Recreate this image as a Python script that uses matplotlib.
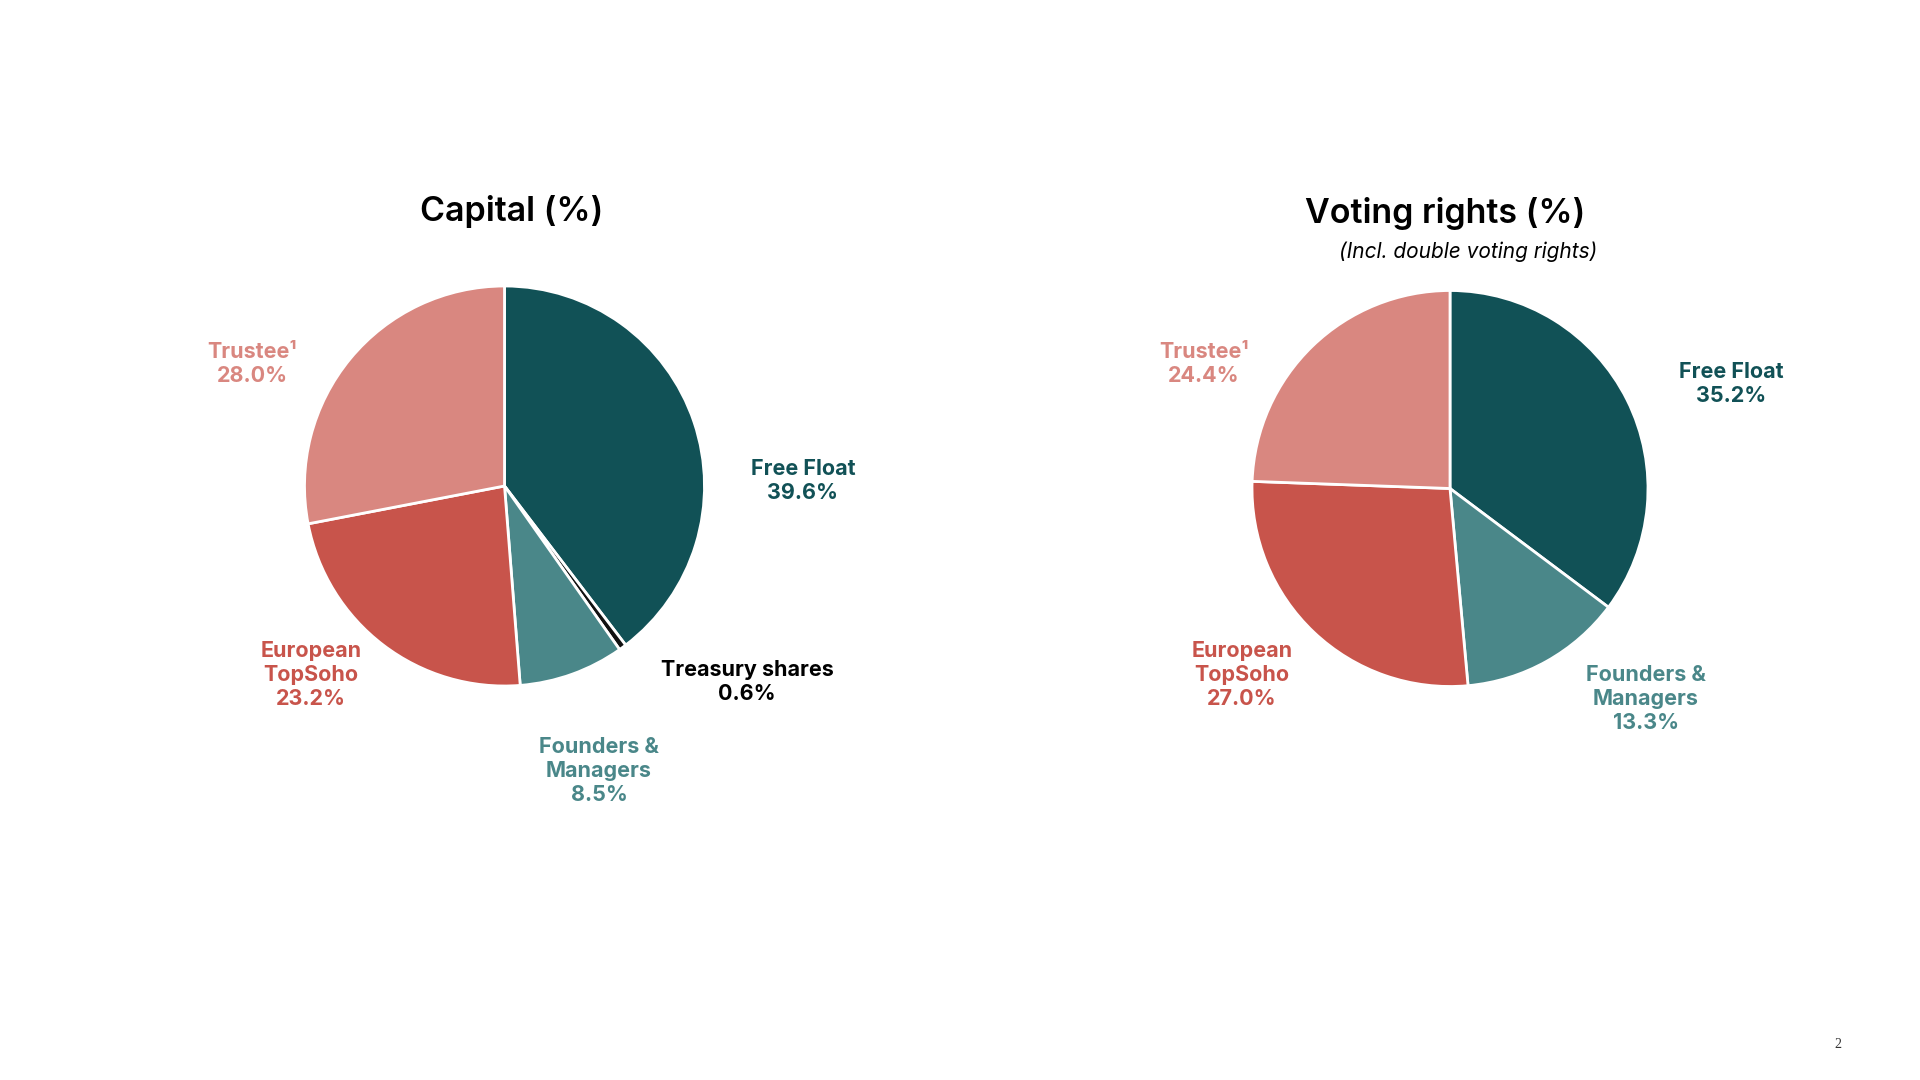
import matplotlib
matplotlib.use("Agg")
import matplotlib.pyplot as plt

plt.rcParams['font.family'] = ['Inter', 'DejaVu Sans']

# data
cap_labels = ["Free Float", "Treasury shares", "Founders &\nManagers", "European\nTopSoho", "Trustee\u00b9"]
cap_values = [39.6, 0.6, 8.5, 23.2, 28.0]
cap_colors = ["#115156", "#111111", "#4a8789", "#c8544b", "#d98780"]
cap_text_colors = ["#115156", "#000000", "#4a8789", "#c8544b", "#d98780"]

vote_labels = ["Free Float", "Founders &\nManagers", "European\nTopSoho", "Trustee\u00b9"]
vote_values = [35.2, 13.3, 27.0, 24.4]
vote_colors = ["#115156", "#4a8789", "#c8544b", "#d98780"]

# label positions in figure pixels (x from left, y from top)
cap_label_pos = [(803, 481), (747, 682), (599, 771), (311, 675), (252, 364)]
vote_label_pos = [(1731, 384), (1646, 699), (1242, 675), (1204, 364)]

W, H = 1920, 1080
fig = plt.figure(figsize=(19.2, 10.8), dpi=100)
ax = fig.add_axes([0, 0, 1, 1])


def draw_pie(values, colors, center, radius):
    ax.pie(values, colors=colors, startangle=90, counterclock=False,
           center=(center[0], H - center[1]), radius=radius,
           wedgeprops=dict(edgecolor='white', linewidth=2), frame=True)


draw_pie(cap_values, cap_colors, (504.5, 486), 200)
draw_pie(vote_values, vote_colors, (1450, 488.5), 198)
ax.set_xlim(0, W)
ax.set_ylim(0, H)
ax.set_aspect('equal')
ax.axis('off')

for lab, v, c, (x, y) in zip(cap_labels, cap_values, cap_text_colors, cap_label_pos):
    ax.text(x, H - y, f"{lab}\n{v:.1f}%", color=c, ha='center', va='center',
            fontsize=15.5, fontweight='bold', linespacing=1.22)

for lab, v, c, (x, y) in zip(vote_labels, vote_values, vote_colors, vote_label_pos):
    ax.text(x, H - y, f"{lab}\n{v:.1f}%", color=c, ha='center', va='center',
            fontsize=15.5, fontweight='bold', linespacing=1.22)

ax.text(512, H - 212, "Capital (%)", ha='center', va='center', fontsize=24.5,
        fontweight='semibold', color='black')
ax.text(1445, H - 214, "Voting rights (%)", ha='center', va='center', fontsize=24.5,
        fontweight='semibold', color='black')
ax.text(1468, H - 252, "(Incl. double voting rights)", ha='center', va='center',
        fontsize=15, fontstyle='italic', color='black')

ax.text(1838, H - 1045, "2", ha='center', va='center', fontsize=10,
        family='Liberation Serif', color='#333333')

fig.savefig("out.png", dpi=100, facecolor='white')
